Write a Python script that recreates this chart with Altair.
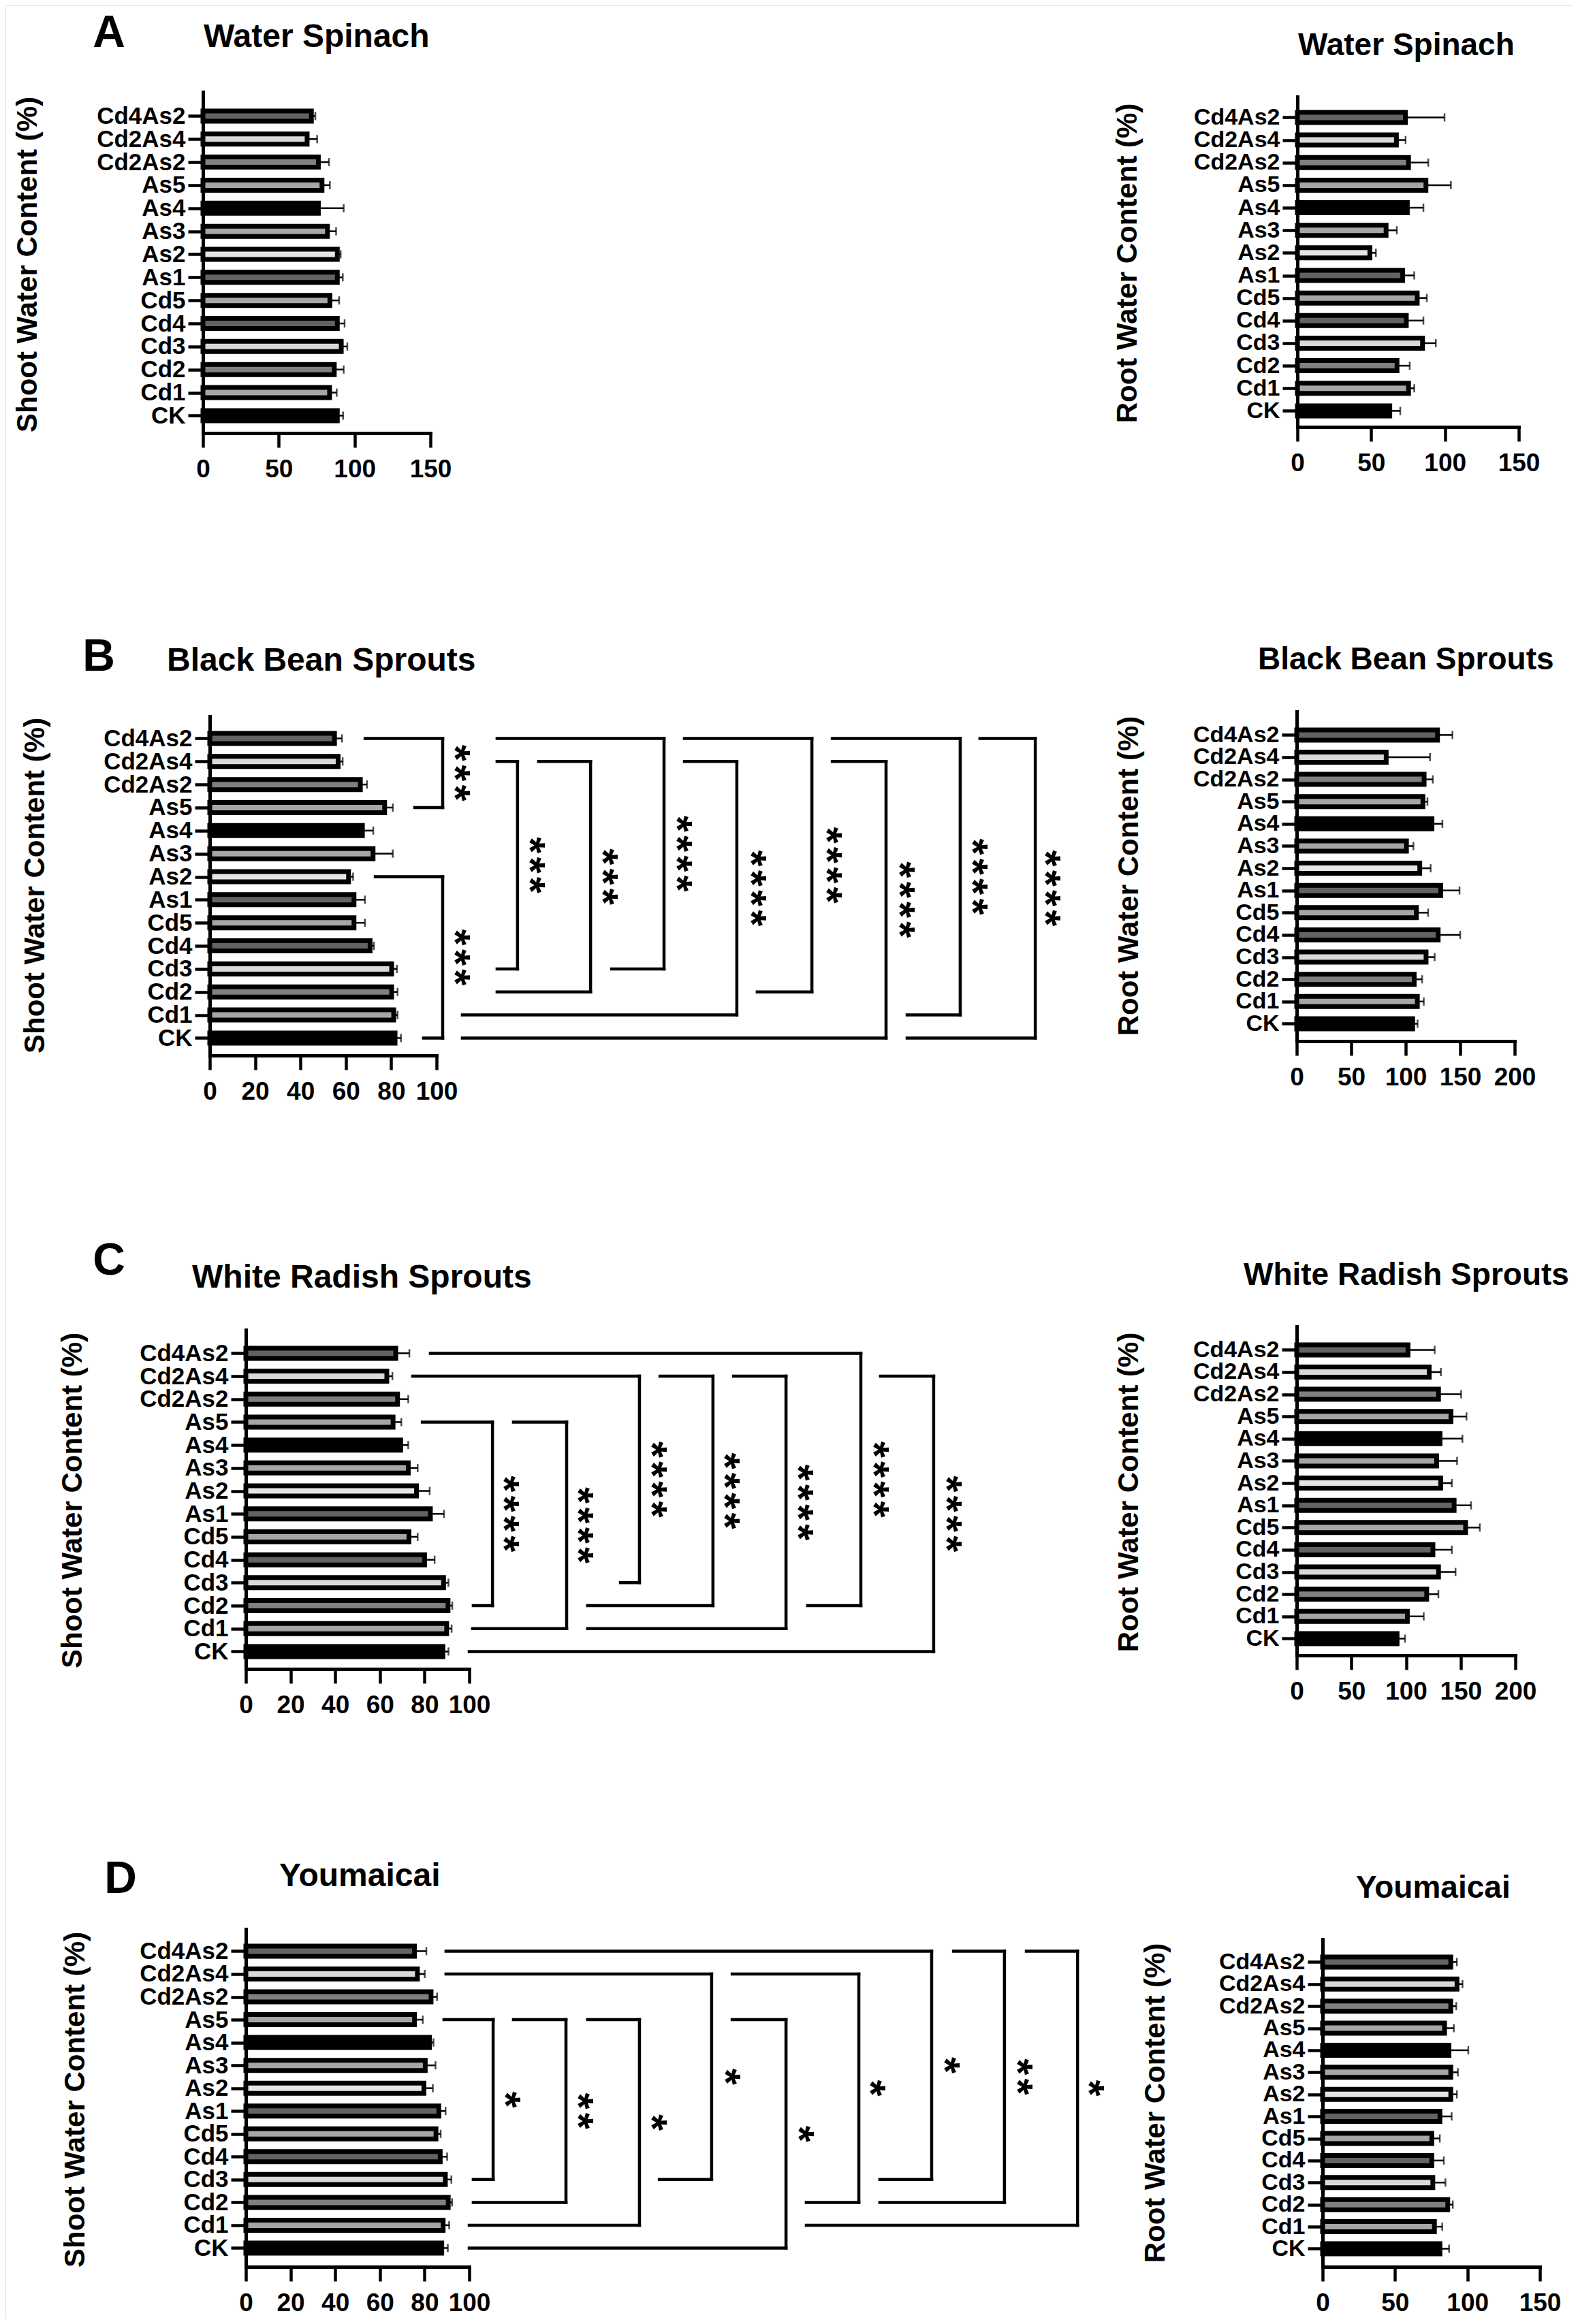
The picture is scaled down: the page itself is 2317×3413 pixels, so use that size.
import altair as alt
import pandas as pd

# ---------------- data ----------------
CATS = ["Cd4As2", "Cd2As4", "Cd2As2", "As5", "As4", "As3", "As2", "As1",
        "Cd5", "Cd4", "Cd3", "Cd2", "Cd1", "CK"]
FILLS = ["#636363", "#d9d9d9", "#808080", "#a6a6a6", "#000000", "#a6a6a6", "#e6e6e6",
         "#636363", "#a6a6a6", "#636363", "#d9d9d9", "#808080", "#a6a6a6", "#000000"]

ws_shoot_mean = [71.5, 68.7, 76.1, 78.5, 76.1, 82.1, 88.6, 88.6, 83.7, 88.6, 91.2, 86.6, 83.5, 88.6]
ws_shoot_err = [2.6, 6.6, 7.0, 5.2, 16.7, 5.7, 2.2, 3.6, 6.1, 4.8, 4.0, 6.2, 4.7, 3.8]
ws_root_mean = [73.2, 67.1, 75.3, 87.1, 74.5, 60.1, 49.1, 71.3, 81.2, 73.8, 84.8, 67.5, 75.3, 62.6]
ws_root_err = [26.5, 6.2, 13.4, 16.9, 10.9, 7.3, 4.1, 7.9, 6.5, 11.6, 9.0, 8.6, 3.9, 7.1]

bb_shoot_mean = [55.0, 56.6, 66.4, 77.1, 67.3, 72.0, 61.2, 63.6, 63.6, 70.7, 80.2, 80.2, 81.1, 81.7]
bb_shoot_err = [3.3, 2.0, 2.9, 3.6, 4.8, 8.7, 2.0, 4.8, 4.8, 1.7, 2.3, 2.6, 1.7, 2.6]
bb_root_mean = [129.2, 82.1, 116.9, 115.8, 124.1, 100.7, 112.9, 132.1, 109.8, 129.8, 118.7, 107.8, 110.7, 106.4]
bb_root_err = [13.7, 40.2, 8.0, 4.2, 9.6, 6.4, 10.0, 17.3, 10.8, 20.2, 7.9, 7.3, 5.9, 4.5]

wr_shoot_mean = [67.1, 63.1, 67.9, 65.9, 69.3, 72.7, 76.4, 82.6, 73.0, 80.0, 88.5, 90.5, 89.9, 88.2]
wr_shoot_err = [6.1, 2.5, 4.8, 3.7, 3.4, 4.2, 5.9, 6.1, 3.9, 4.5, 2.2, 1.9, 2.2, 2.5]
wr_root_mean = [101.8, 121.2, 129.7, 141.1, 131.1, 128.0, 131.7, 144.0, 154.5, 124.6, 129.7, 118.9, 101.2, 91.8]
wr_root_err = [24.4, 10.7, 20.7, 14.2, 20.5, 18.7, 10.2, 15.5, 13.0, 17.3, 15.6, 10.7, 15.0, 7.3]

ym_shoot_mean = [75.5, 76.8, 82.9, 75.5, 82.2, 80.3, 79.7, 86.4, 85.1, 87.0, 89.3, 90.6, 88.3, 87.7]
ym_shoot_err = [5.3, 3.3, 2.7, 3.7, 1.8, 4.6, 4.0, 3.0, 2.1, 3.1, 2.7, 1.7, 2.7, 2.7]
ym_root_mean = [88.5, 92.8, 88.5, 84.2, 87.2, 88.5, 88.5, 81.0, 75.4, 75.4, 76.1, 86.4, 77.2, 81.0]
ym_root_err = [4.2, 3.8, 3.8, 6.4, 13.4, 4.9, 4.2, 8.1, 5.5, 8.3, 8.7, 3.5, 5.4, 6.3]

# significance brackets (x levels in the shoot axis units)
bb_br_top = ["Cd4As2", "As2", "Cd2As4", "Cd2As4", "Cd4As2", "Cd2As4", "Cd4As2", "Cd2As4", "Cd4As2", "Cd4As2"]
bb_br_bot = ["As5", "CK", "Cd3", "Cd2", "Cd3", "Cd1", "Cd2", "CK", "Cd1", "CK"]
bb_br_xtop = [68.5, 73.0, 126.7, 145.0, 126.7, 209.3, 209.3, 274.5, 274.5, 339.6]
bb_br_xbot = [90.4, 94.3, 126.7, 126.7, 177.2, 111.4, 241.4, 111.4, 307.5, 307.5]
bb_br_xv = [102.7, 102.7, 135.7, 167.9, 200.3, 232.4, 265.5, 298.2, 330.9, 364.0]
bb_br_xs = [112.9, 112.9, 145.9, 178.1, 210.8, 243.5, 276.9, 309.0, 341.1, 373.3]
bb_br_lab = ["***", "***", "***", "***", "****", "****", "****", "****", "****", "****"]

wr_br_top = ["As5", "As5", "Cd2As4", "Cd2As4", "Cd2As4", "Cd4As2", "Cd2As4"]
wr_br_bot = ["Cd2", "Cd1", "Cd3", "Cd2", "Cd1", "Cd2", "CK"]
wr_br_xtop = [79.0, 119.8, 74.7, 185.4, 218.3, 82.6, 284.1]
wr_br_xbot = [101.8, 101.5, 167.7, 153.0, 153.0, 251.5, 100.0]
wr_br_xv = [110.4, 143.6, 176.2, 209.1, 241.8, 275.3, 307.9]
wr_br_xs = [120.4, 153.7, 186.6, 219.2, 252.1, 286.0, 318.6]
wr_br_lab = ["****"] * 7

ym_br_top = ["As5", "As5", "As5", "Cd2As4", "As5", "Cd2As4", "Cd4As2", "Cd4As2", "Cd4As2"]
ym_br_bot = ["Cd3", "Cd2", "Cd1", "Cd3", "CK", "Cd2", "Cd3", "Cd2", "Cd1"]
ym_br_xtop = [88.7, 119.8, 153.0, 89.6, 217.7, 217.7, 89.6, 316.8, 349.4]
ym_br_xbot = [101.8, 101.8, 100.0, 185.1, 100.0, 250.9, 283.8, 283.8, 250.9]
ym_br_xv = [110.7, 143.3, 176.2, 208.5, 241.8, 274.4, 307.0, 339.6, 372.3]
ym_br_xs = [121.0, 153.7, 186.6, 219.5, 252.4, 284.5, 317.7, 350.3, 382.3]
ym_br_lab = ["*", "**", "*", "*", "*", "*", "*", "**", "*"]

# ---------------- layout ----------------
OFF = 8
W, H = 2301, 3397
FONT = "Liberation Sans, Arial, Helvetica, sans-serif"
N = len(CATS)
IDX = {c: N - 1 - i for i, c in enumerate(CATS)}
LABEL_EXPR = "[" + ",".join("'%s'" % c for c in reversed(CATS)) + "][datum.value]"
STAR_FS = 62

SHOOT = "Shoot Water Content (%)"
ROOT = "Root Water Content (%)"

GEOM = {
    "A_L": dict(x0=298, x1=632, dmax=150, ytop=135, ybot=636, ctop=166, cbot=615, ticks=[0, 50, 100, 150], yt=SHOOT, tx=40, ty=388, lf=35),
    "A_R": dict(x0=1905, x1=2230, dmax=150, ytop=142, ybot=627, ctop=168, cbot=608, ticks=[0, 50, 100, 150], yt=ROOT, tx=1655, ty=386, lf=34),
    "B_L": dict(x0=308, x1=641, dmax=100, ytop=1052, ybot=1550, ctop=1080, cbot=1529, ticks=[0, 20, 40, 60, 80, 100], yt=SHOOT, tx=51, ty=1300, lf=35),
    "B_R": dict(x0=1904, x1=2224, dmax=200, ytop=1045, ybot=1529, ctop=1075, cbot=1508, ticks=[0, 50, 100, 150, 200], yt=ROOT, tx=1657, ty=1286, lf=34),
    "C_L": dict(x0=361, x1=689, dmax=100, ytop=1953, ybot=2451, ctop=1983, cbot=2430, ticks=[0, 20, 40, 60, 80, 100], yt=SHOOT, tx=106, ty=2203, lf=35),
    "C_R": dict(x0=1904, x1=2225, dmax=200, ytop=1948, ybot=2431, ctop=1978, cbot=2411, ticks=[0, 50, 100, 150, 200], yt=ROOT, tx=1657, ty=2191, lf=34),
    "D_L": dict(x0=361, x1=689, dmax=100, ytop=2833, ybot=3329, ctop=2861, cbot=3306, ticks=[0, 20, 40, 60, 80, 100], yt=SHOOT, tx=110, ty=3083, lf=35),
    "D_R": dict(x0=1942, x1=2261, dmax=150, ytop=2848, ybot=3329, ctop=2877, cbot=3307, ticks=[0, 50, 100, 150], yt=ROOT, tx=1696, ty=3088, lf=34),
}


def panel(means, errs, g, br=None):
    df = pd.DataFrame({"cat": CATS, "idx": [IDX[c] for c in CATS], "mean": means,
                       "err": errs, "fill": FILLS})
    df["hi"] = df["mean"] + df["err"]
    df["zero"] = 0.0
    step = (g["cbot"] - g["ctop"]) / (N - 1)
    lo = -(g["ybot"] - g["cbot"]) / step
    hi = (N - 1) + (g["ctop"] - g["ytop"]) / step
    xs = alt.Scale(domain=[0, g["dmax"]], range=[g["x0"] - OFF, g["x1"] - OFF], nice=False, zero=False)
    ys = alt.Scale(domain=[lo, hi], range=[g["ybot"] - OFF, g["ytop"] - OFF], nice=False, zero=False)
    xa = alt.Axis(orient="bottom", offset=(g["ybot"] - OFF) - H, values=g["ticks"], title=None, grid=False,
                  domainColor="black", domainWidth=5, domainCap="square", tickColor="black",
                  tickWidth=4.5, tickSize=21, labelFont=FONT, labelFontSize=37, labelFontWeight="bold",
                  labelColor="black", labelPadding=14, labelFlush=False, labelOverlap=False, labelAngle=0)
    ya = alt.Axis(orient="left", offset=-(g["x0"] - OFF), values=list(range(N)), labelExpr=LABEL_EXPR,
                  title=g["yt"], titleX=g["tx"] - g["x0"], titleY=g["ty"] - OFF, titleAngle=270,
                  titleAlign="center", titleBaseline="middle", titleFont=FONT, titleFontSize=42,
                  titleFontWeight="bold", titleColor="black", grid=False,
                  domainColor="black", domainWidth=5, domainCap="square", tickColor="black",
                  tickWidth=4.5, tickSize=22, labelFont=FONT, labelFontSize=g["lf"], labelFontWeight="bold",
                  labelColor="black", labelPadding=4, labelOverlap=False, labelBound=False)

    def X(f):
        return alt.X(f, type="quantitative", scale=xs, axis=xa)

    def Y(f):
        return alt.Y(f, type="quantitative", scale=ys, axis=ya)

    bars = alt.Chart(df).mark_bar(orient="horizontal", size=15, stroke="black", strokeWidth=7).encode(
        x=X("mean"), x2=alt.X2("zero"), y=Y("idx"), fill=alt.Fill("fill:N", scale=None))
    er = alt.Chart(df).mark_rule(color="black", strokeWidth=2.5).encode(
        x=X("mean"), x2=alt.X2("hi"), y=Y("idx"))
    cap = alt.Chart(df).mark_tick(orient="vertical", size=12, thickness=2.5, color="black").encode(
        x=X("hi"), y=Y("idx"))
    layers = [bars, er, cap]
    if br is not None:
        top, bot, xt, xb, xv, xst, lab = br
        rows = []
        for t, b, a1, a2, v in zip(top, bot, xt, xb, xv):
            it, ib = IDX[t], IDX[b]
            rows.append(dict(x=a1, x2=v, y=it, y2=it))
            rows.append(dict(x=a2, x2=v, y=ib, y2=ib))
            rows.append(dict(x=v, x2=v, y=it, y2=ib))
        seg = pd.DataFrame(rows)
        segs = alt.Chart(seg).mark_rule(color="black", strokeWidth=4.5, strokeCap="square").encode(
            x=X("x"), x2=alt.X2("x2"), y=Y("y"), y2=alt.Y2("y2"))
        st = pd.DataFrame({"x": xst,
                           "y": [(IDX[t] + IDX[b]) / 2 for t, b in zip(top, bot)],
                           "t": ["\u200a".join(list(s)) for s in lab]})
        stars = alt.Chart(st).mark_text(font=FONT, fontSize=STAR_FS, fontWeight="bold", angle=90,
                                        align="center", baseline="middle", dy=round(STAR_FS * 0.27),
                                        color="black").encode(
            x=X("x"), y=Y("y"), text="t:N")
        layers += [segs, stars]
    return alt.layer(*layers)


def label(text, x, y, size, align="left"):
    return alt.Chart(alt.Data(values=[{"t": text}])).mark_text(
        font=FONT, fontSize=size, fontWeight="bold", align=align, baseline="middle", color="black"
    ).encode(x=alt.value(x - OFF), y=alt.value(y - OFF), text="t:N")


panels = [
    panel(ws_shoot_mean, ws_shoot_err, GEOM["A_L"]),
    panel(ws_root_mean, ws_root_err, GEOM["A_R"]),
    panel(bb_shoot_mean, bb_shoot_err, GEOM["B_L"],
          (bb_br_top, bb_br_bot, bb_br_xtop, bb_br_xbot, bb_br_xv, bb_br_xs, bb_br_lab)),
    panel(bb_root_mean, bb_root_err, GEOM["B_R"]),
    panel(wr_shoot_mean, wr_shoot_err, GEOM["C_L"],
          (wr_br_top, wr_br_bot, wr_br_xtop, wr_br_xbot, wr_br_xv, wr_br_xs, wr_br_lab)),
    panel(wr_root_mean, wr_root_err, GEOM["C_R"]),
    panel(ym_shoot_mean, ym_shoot_err, GEOM["D_L"],
          (ym_br_top, ym_br_bot, ym_br_xtop, ym_br_xbot, ym_br_xv, ym_br_xs, ym_br_lab)),
    panel(ym_root_mean, ym_root_err, GEOM["D_R"]),
]

texts = [
    label("A", 160, 49, 66, "center"), label("Water Spinach", 299, 55, 48), label("Water Spinach", 1906, 67, 46),
    label("B", 145, 965, 66, "center"), label("Black Bean Sprouts", 245, 971, 48), label("Black Bean Sprouts", 1847, 969, 46),
    label("C", 160, 1852, 66, "center"), label("White Radish Sprouts", 282, 1877, 48), label("White Radish Sprouts", 1826, 1873, 46),
    label("D", 177, 2760, 66, "center"), label("Youmaicai", 410, 2756, 48), label("Youmaicai", 1991, 2773, 46),
]

chart = alt.layer(*panels, *texts).resolve_scale(
    x="independent", y="independent"
).resolve_axis(
    x="independent", y="independent"
).properties(
    width=W, height=H, padding=0
).configure_view(stroke=None).configure(background="white")

chart.save("out.html", embed_options={"renderer": "svg", "actions": False})
